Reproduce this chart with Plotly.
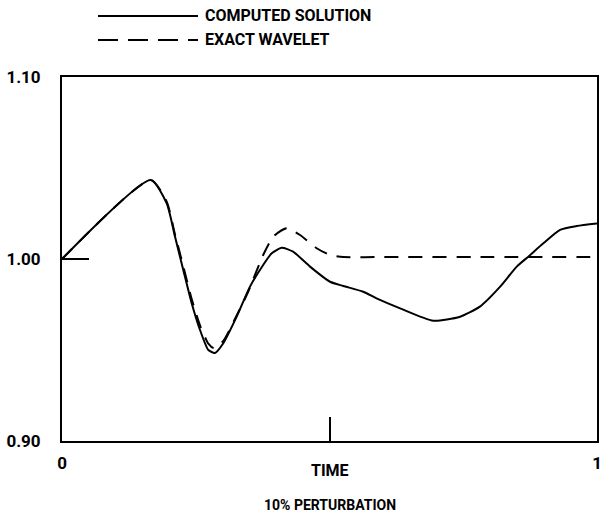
import plotly.graph_objects as go

# ---- data ----
t_computed = [0.0, 0.166, 0.1957, 0.2112, 0.2267, 0.2424, 0.258, 0.2735, 0.286, 0.3015,
              0.3265, 0.3514, 0.376, 0.392, 0.4106, 0.432, 0.4636, 0.501, 0.5258, 0.563,
              0.588, 0.632, 0.694, 0.744, 0.781, 0.819, 0.85, 0.8716, 0.8997, 0.931,
              0.962, 1.0]
v_computed = [1.000, 1.0434, 1.0306, 1.0123, 0.994, 0.9757, 0.961, 0.950, 0.9484, 0.9537,
              0.9683, 0.9848, 0.9967, 1.0031, 1.0062, 1.004, 0.9958, 0.9875, 0.9852, 0.982,
              0.9784, 0.9729, 0.9661, 0.9683, 0.9738, 0.9848, 0.9958, 1.0013, 1.0086, 1.016,
              1.0181, 1.0195]

t_exact = [0.0, 0.166, 0.1957, 0.2112, 0.2267, 0.2424, 0.258, 0.2735, 0.284, 0.3015,
           0.3265, 0.348, 0.376, 0.395, 0.42, 0.445, 0.476, 0.501, 0.526, 0.6, 0.8, 1.0]
v_exact = [1.000, 1.0434, 1.0315, 1.0135, 0.996, 0.978, 0.9635, 0.9535, 0.951, 0.955,
           0.969, 0.982, 1.0022, 1.0123, 1.0169, 1.0132, 1.0059, 1.0022, 1.0011, 1.0011,
           1.0011, 1.0011]

x_tickvals = [0, 0.5, 1]
x_ticktext = ["0", "", "1"]
y_tickvals = [0.90, 1.00, 1.10]
y_ticktext = ["0.90", "1.00", "1.10"]

legend_names = ["COMPUTED SOLUTION", "EXACT WAVELET"]
x_title = "TIME"
caption = "10% PERTURBATION"

FONT = "Roboto, DejaVu Sans, sans-serif"

fig = go.Figure()
fig.add_trace(go.Scatter(x=t_computed, y=v_computed, mode="lines",
                         line=dict(color="black", width=2, shape="spline", smoothing=0.6),
                         name=legend_names[0], showlegend=False))
fig.add_trace(go.Scatter(x=t_exact, y=v_exact, mode="lines",
                         line=dict(color="black", width=2, dash="14px,10px", shape="spline", smoothing=0.6),
                         name=legend_names[1], showlegend=False))

# manual legend (long line samples as in the reference)
W, H = 611, 517
ml, mr, mt, mb = 62, 14, 77, 76
pw, ph = W - ml - mr, H - mt - mb

def px(xp):
    return (xp - ml) / pw

def py(yp):
    return (H - mb - yp) / ph

fig.add_shape(type="line", xref="paper", yref="paper", x0=px(98), x1=px(198),
              y0=py(16), y1=py(16), line=dict(color="black", width=2))
fig.add_shape(type="line", xref="paper", yref="paper", x0=px(98), x1=px(198),
              y0=py(40), y1=py(40), line=dict(color="black", width=2, dash="20px,10px"))
fig.add_annotation(xref="paper", yref="paper", x=px(203), y=py(16), text="<b>%s</b>" % legend_names[0],
                   showarrow=False, xanchor="left", yanchor="middle",
                   font=dict(family=FONT, size=16, color="black"))
fig.add_annotation(xref="paper", yref="paper", x=px(203), y=py(40), text="<b>%s</b>" % legend_names[1],
                   showarrow=False, xanchor="left", yanchor="middle",
                   font=dict(family=FONT, size=16, color="black"))

fig.add_annotation(xref="paper", yref="paper", x=0.5, y=py(470), text="<b>%s</b>" % x_title,
                   showarrow=False, xanchor="center", yanchor="middle",
                   font=dict(family=FONT, size=16, color="black"))
fig.add_annotation(xref="paper", yref="paper", x=0.5, y=py(505), text="<b>%s</b>" % caption,
                   showarrow=False, xanchor="center", yanchor="middle",
                   font=dict(family=FONT, size=14, color="black"))

fig.update_layout(
    width=W, height=H,
    margin=dict(l=ml, r=mr, t=mt, b=mb),
    paper_bgcolor="white", plot_bgcolor="white",
    font=dict(family=FONT, size=17, color="black"),
    showlegend=False,
)
fig.update_xaxes(range=[0, 1], tickvals=x_tickvals, ticktext=["<b>%s</b>" % s for s in x_ticktext],
                 ticks="inside", ticklen=24, tickwidth=2, tickcolor="black",
                 showline=True, linecolor="black", linewidth=2, mirror=True,
                 showgrid=False, zeroline=False, ticklabelstandoff=6, automargin=False)
fig.update_yaxes(range=[0.90, 1.10], tickvals=y_tickvals, ticktext=["<b>%s</b>" % s for s in y_ticktext],
                 ticks="inside", ticklen=27, tickwidth=2, tickcolor="black",
                 showline=True, linecolor="black", linewidth=2, mirror=True,
                 showgrid=False, zeroline=False, ticklabelstandoff=16, automargin=False)

fig.write_html("out.html")
